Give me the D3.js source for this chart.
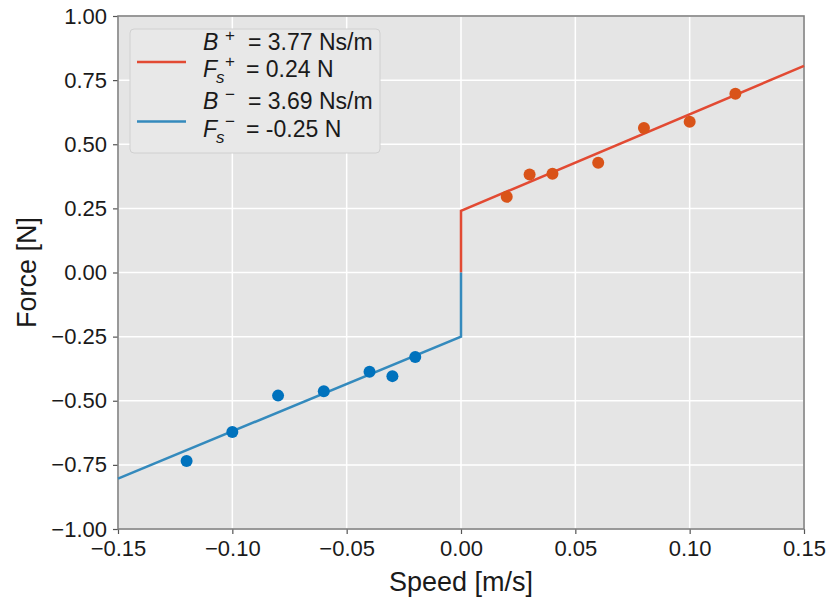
<!DOCTYPE html>
<html>
<head>
<meta charset="utf-8">
<script src="https://cdn.jsdelivr.net/npm/d3@7"></script>
<style>
	body { margin: 0; background: #fff; }
	svg { font-family: "Liberation Sans", Arial, sans-serif; }
</style>
</head>
<body>
<div class="chart"></div>
<script>
	// measured points
	var speedPos = [0.02, 0.03, 0.04, 0.06, 0.08, 0.10, 0.12];
	var forcePos = [0.295, 0.382, 0.385, 0.428, 0.563, 0.588, 0.697];
	var speedNeg = [-0.12, -0.10, -0.08, -0.06, -0.04, -0.03, -0.02];
	var forceNeg = [-0.735, -0.622, -0.480, -0.463, -0.387, -0.404, -0.329];

	// fitted lines (vertices)
	var fitPos = [[0, 0], [0, 0.24], [0.15, 0.8055]];
	var fitNeg = [[-0.15, -0.8035], [0, -0.25], [0, 0]];

	var xTicks = [-0.15, -0.10, -0.05, 0.00, 0.05, 0.10, 0.15];
	var yTicks = [-1.00, -0.75, -0.50, -0.25, 0.00, 0.25, 0.50, 0.75, 1.00];

	var legendRows = [
		{ sign: "+", B: "3.77 Ns/m", F: "0.24 N", line: "#E24A33" },
		{ sign: "\u2212", B: "3.69 Ns/m", F: "-0.25 N", line: "#348ABD" }
	];

	var COLORS = {
		posDot: "#D95319",
		negDot: "#0072BD",
		bg: "#E5E5E5",
		spine: "#808080"
	};

	var margin = { top: 16, right: 26, bottom: 71, left: 118 },
		W = 830, H = 600,
		width = W - margin.left - margin.right,
		height = H - margin.top - margin.bottom;

	var svg = d3.select(".chart").append("svg")
		.attr("width", W)
		.attr("height", H);

	var g = svg.append("g")
		.attr("transform", "translate(" + margin.left + "," + margin.top + ")");

	var x = d3.scaleLinear().domain([-0.15, 0.15]).range([0, width]),
		y = d3.scaleLinear().domain([-1, 1]).range([height, 0]);

	var fmt = function (d) { return d3.format(".2f")(d).replace("-", "\u2212"); };

	g.append("rect")
		.attr("width", width)
		.attr("height", height)
		.attr("fill", COLORS.bg);

	// grid
	g.selectAll(".vgrid")
		.data(xTicks)
		.enter().append("line")
		.attr("x1", function (d) { return x(d); })
		.attr("x2", function (d) { return x(d); })
		.attr("y1", 0)
		.attr("y2", height)
		.attr("stroke", "#fff")
		.attr("stroke-width", 1.5);

	g.selectAll(".hgrid")
		.data(yTicks)
		.enter().append("line")
		.attr("y1", function (d) { return y(d); })
		.attr("y2", function (d) { return y(d); })
		.attr("x1", 0)
		.attr("x2", width)
		.attr("stroke", "#fff")
		.attr("stroke-width", 1.5);

	var xAxis = d3.axisBottom(x).tickValues(xTicks).tickFormat(fmt).tickSize(5).tickPadding(6),
		yAxis = d3.axisLeft(y).tickValues(yTicks).tickFormat(fmt).tickSize(5).tickPadding(6);

	var gx = g.append("g")
		.attr("transform", "translate(0," + height + ")")
		.call(xAxis);

	var gy = g.append("g")
		.call(yAxis);

	[gx, gy].forEach(function (a) {
		a.select(".domain").remove();
		a.selectAll(".tick line").attr("stroke", "#555").attr("stroke-width", 1.2);
		a.selectAll(".tick text")
			.attr("fill", "#1a1a1a")
			.style("font-size", "22px")
			.style("font-family", "\"Liberation Sans\", Arial, sans-serif");
	});

	// spines
	g.append("rect")
		.attr("width", width)
		.attr("height", height)
		.attr("fill", "none")
		.attr("stroke", COLORS.spine)
		.attr("stroke-width", 1.6);

	var line = d3.line()
		.x(function (d) { return x(d[0]); })
		.y(function (d) { return y(d[1]); });

	g.append("path")
		.datum(fitPos)
		.attr("d", line)
		.attr("fill", "none")
		.attr("stroke", legendRows[0].line)
		.attr("stroke-width", 2.5);

	g.append("path")
		.datum(fitNeg)
		.attr("d", line)
		.attr("fill", "none")
		.attr("stroke", legendRows[1].line)
		.attr("stroke-width", 2.5);

	g.selectAll(".dotPos")
		.data(d3.zip(speedPos, forcePos))
		.enter().append("circle")
		.attr("cx", function (d) { return x(d[0]); })
		.attr("cy", function (d) { return y(d[1]); })
		.attr("r", 6)
		.attr("fill", COLORS.posDot);

	g.selectAll(".dotNeg")
		.data(d3.zip(speedNeg, forceNeg))
		.enter().append("circle")
		.attr("cx", function (d) { return x(d[0]); })
		.attr("cy", function (d) { return y(d[1]); })
		.attr("r", 6)
		.attr("fill", COLORS.negDot);

	// axis labels
	svg.append("text")
		.attr("x", margin.left + width / 2)
		.attr("y", 591)
		.attr("text-anchor", "middle")
		.style("font-size", "27px")
		.attr("fill", "#1a1a1a")
		.text("Speed [m/s]");

	svg.append("text")
		.attr("transform", "translate(36," + (margin.top + height / 2) + ") rotate(-90)")
		.attr("text-anchor", "middle")
		.style("font-size", "27px")
		.attr("fill", "#1a1a1a")
		.text("Force [N]");

	// legend
	var legend = svg.append("g").attr("class", "legend");

	legend.append("rect")
		.attr("x", 130)
		.attr("y", 29)
		.attr("width", 250)
		.attr("height", 124)
		.attr("rx", 4)
		.attr("fill", "#E8E8E8")
		.attr("stroke", "#D0D0D0")
		.attr("stroke-width", 1);

	var rows = legend.selectAll(".row")
		.data(legendRows)
		.enter().append("g")
		.attr("transform", function (d, i) { return "translate(0," + (i * 59.5) + ")"; });

	rows.append("line")
		.attr("x1", 137)
		.attr("x2", 186)
		.attr("y1", 62)
		.attr("y2", 62)
		.attr("stroke", function (d) { return d.line; })
		.attr("stroke-width", 2.5);

	var bText = rows.append("text")
		.attr("y", 49.5)
		.style("font-size", "23px")
		.attr("fill", "#1a1a1a");
	bText.append("tspan").attr("x", 203).style("font-style", "italic").text("B");
	bText.append("tspan").attr("x", 225).attr("dy", -9).style("font-size", "17px").text(function (d) { return d.sign; });
	bText.append("tspan").attr("x", 248).attr("dy", 9).text(function (d) { return "= " + d.B; });

	var fText = rows.append("text")
		.attr("y", 77)
		.style("font-size", "23px")
		.attr("fill", "#1a1a1a");
	fText.append("tspan").attr("x", 203).style("font-style", "italic").text("F");
	fText.append("tspan").attr("x", 216).attr("dy", 6).style("font-size", "17px").style("font-style", "italic").text("s");
	fText.append("tspan").attr("x", 225).attr("dy", -16).style("font-size", "17px").text(function (d) { return d.sign; });
	fText.append("tspan").attr("x", 246).attr("dy", 10).text(function (d) { return "= " + d.F; });
</script>
</body>
</html>
